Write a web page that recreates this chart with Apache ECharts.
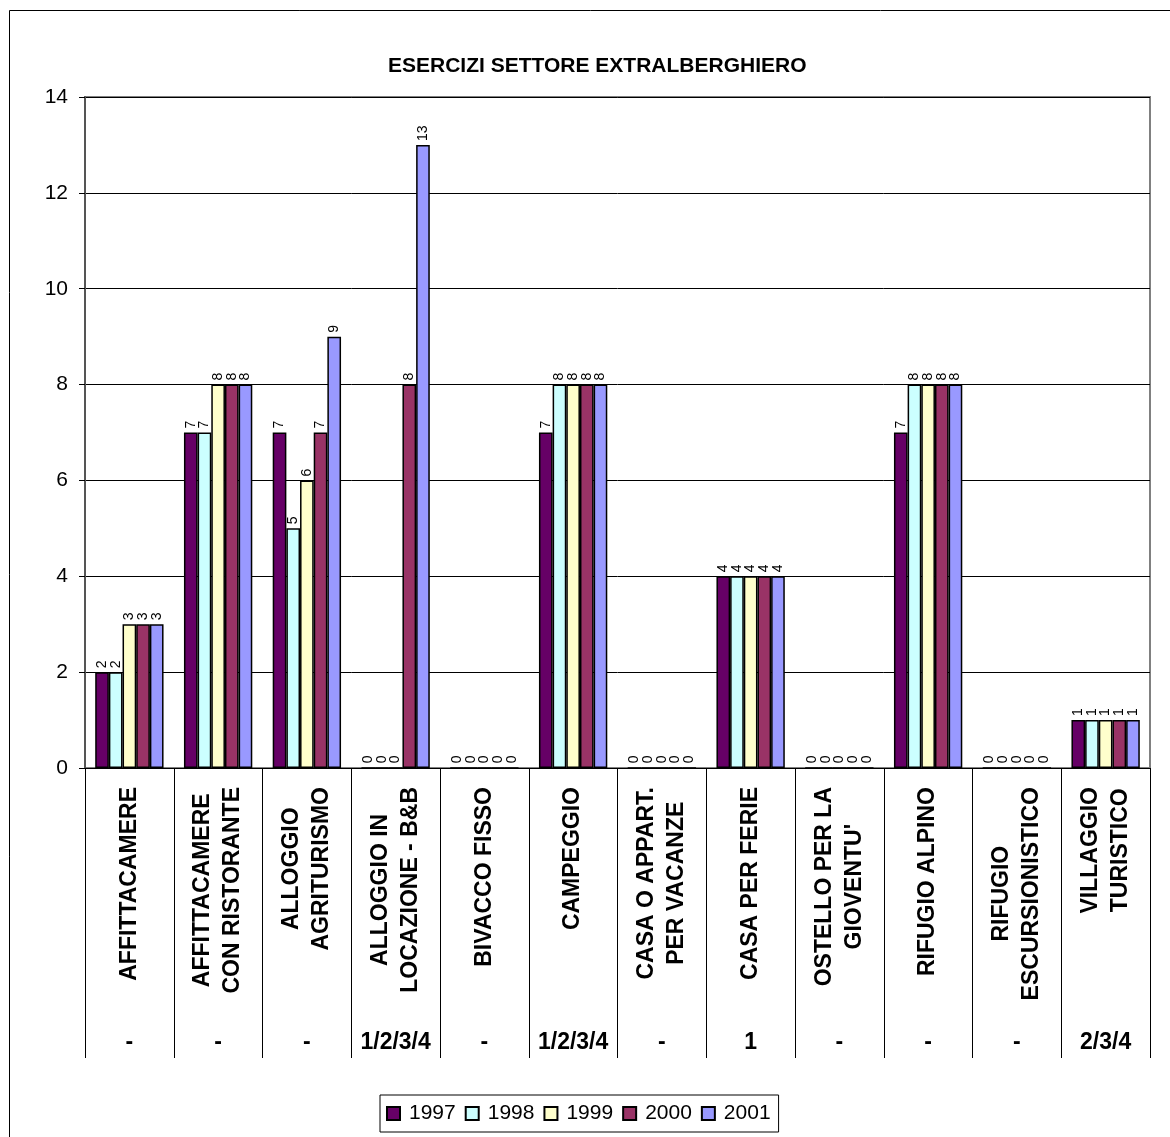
<!DOCTYPE html>
<html>
<head>
<meta charset="utf-8">
<script src="https://cdn.jsdelivr.net/npm/echarts@6/dist/echarts.min.js"></script>
<style>
html,body{margin:0;padding:0;background:#fff;}
#chart{width:1170px;height:1137px;}
</style>
</head>
<body>
<div id="chart"></div>
<script>
const categories = [
  "AFFITTACAMERE",
  "AFFITTACAMERE\nCON RISTORANTE",
  "ALLOGGIO\nAGRITURISMO",
  "ALLOGGIO IN\nLOCAZIONE - B&B",
  "BIVACCO FISSO",
  "CAMPEGGIO",
  "CASA O APPART.\nPER VACANZE",
  "CASA PER FERIE",
  "OSTELLO PER LA\nGIOVENTU'",
  "RIFUGIO ALPINO",
  "RIFUGIO\nESCURSIONISTICO",
  "VILLAGGIO\nTURISTICO"
];
const subLabels = ["-", "-", "-", "1/2/3/4", "-", "1/2/3/4", "-", "1", "-", "-", "-", "2/3/4"];
const years = ["1997", "1998", "1999", "2000", "2001"];
const v1997 = [2, 7, 7, 0, 0, 7, 0, 4, 0, 7, 0, 1];
const v1998 = [2, 7, 5, 0, 0, 8, 0, 4, 0, 8, 0, 1];
const v1999 = [3, 8, 6, 0, 0, 8, 0, 4, 0, 8, 0, 1];
const v2000 = [3, 8, 7, 8, 0, 8, 0, 4, 0, 8, 0, 1];
const v2001 = [3, 8, 9, 13, 0, 8, 0, 4, 0, 8, 0, 1];
const yTicks = [0, 2, 4, 6, 8, 10, 12, 14];

const colors = ["#660066", "#CCFFFF", "#FFFFCC", "#993366", "#9999FF"];
const values = [v1997, v1998, v1999, v2000, v2001];
const FONT = "Liberation Sans, Arial, sans-serif";

const chart = echarts.init(document.getElementById('chart'));
const series = years.map((y, i) => ({
  name: y,
  type: 'bar',
  data: values[i],
  barGap: '0%',
  barCategoryGap: '23%',
  itemStyle: { color: colors[i], borderColor: '#000', borderWidth: 1.5 },
  label: {
    show: true, position: 'top', rotate: 90, align: 'left', verticalAlign: 'middle',
    distance: 4, fontSize: 14, fontFamily: FONT, color: '#000'
  },
  emphasis: { disabled: true },
  animation: false
}));

chart.setOption({
  animation: false,
  color: colors,
  title: {
    text: 'ESERCIZI SETTORE EXTRALBERGHIERO',
    left: 383, top: 51,
    textStyle: { fontFamily: FONT, fontSize: 21, fontWeight: 'bold', color: '#000' }
  },
  graphic: [{
    type: 'rect', silent: true, z: -10,
    shape: { x: 9.5, y: 10.5, width: 1300, height: 1300 },
    style: { fill: 'none', stroke: '#000', lineWidth: 1 }
  }],
  legend: {
    left: 380, top: 1095,
    padding: [8, 8, 8, 6],
    itemGap: 9, itemWidth: 13, itemHeight: 13,
    borderColor: '#000', borderWidth: 1,
    icon: 'rect',
    textStyle: { fontFamily: FONT, fontSize: 21, color: '#000', padding: [0, 0, 0, 4] },
    data: years
  },
  grid: {
    left: 85, top: 97, right: 20, bottom: 369,
    show: true, borderColor: '#808080', borderWidth: 2, backgroundColor: 'transparent',
    containLabel: false
  },
  xAxis: [{
    type: 'category',
    data: categories,
    position: 'bottom',
    axisLine: { show: true, lineStyle: { color: '#000', width: 1 } },
    axisTick: { show: true, length: 290, lineStyle: { color: '#000', width: 1 } },
    axisLabel: {
      interval: 0, rotate: 90, margin: 19,
      fontFamily: FONT, fontSize: 23, fontWeight: 'bold', color: '#000',
      formatter: function (v) {
        return v.split('\n').map(l => '{c|' + l + '}').join('\n');
      },
      rich: { c: { align: 'center', fontFamily: FONT, fontSize: 23, fontWeight: 'bold', color: '#000', lineHeight: 30 } }
    },
    splitLine: { show: false }
  }, {
    type: 'category',
    data: subLabels,
    position: 'bottom',
    offset: 263,
    axisLine: { show: false },
    axisTick: { show: false },
    axisLabel: { interval: 0, margin: 0, fontFamily: FONT, fontSize: 23, fontWeight: 'bold', color: '#000' }
  }],
  yAxis: {
    type: 'value', min: 0, max: 14, interval: 2,
    axisLine: { show: true, lineStyle: { color: '#555', width: 2 } },
    axisTick: { show: true, inside: false, length: 6, lineStyle: { color: '#000' } },
    axisLabel: {
      margin: 17, fontFamily: FONT, fontSize: 21, color: '#000',
      formatter: v => (yTicks.indexOf(v) >= 0 ? String(v) : '')
    },
    splitLine: { show: true, lineStyle: { color: '#000', width: 1 } }
  },
  series: series
});
</script>
</body>
</html>
